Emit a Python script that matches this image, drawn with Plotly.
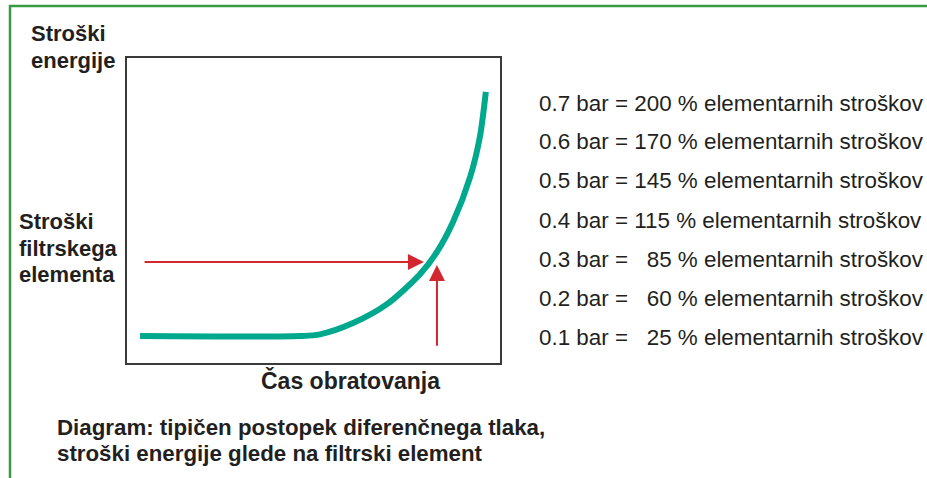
import plotly.graph_objects as go

W, H = 927, 478

# curve: time of operation (x) vs energy cost (y), arbitrary units 0..100
curve_x = [3.5, 46.4, 51.7, 60.6, 69.7, 78.6, 83.1, 87.4, 92.0, 94.6, 96.2]
curve_y = [8.85, 8.85, 9.4, 13.1, 19.3, 29.2, 36.4, 46.2, 61.0, 74.1, 88.9]

# arrows (filter element cost level and time of change)
h_arrow_tail = (4.3, 33.1)
h_arrow_tip = (79.6, 33.1)
v_arrow_tail = (83.1, 5.2)
v_arrow_tip = (83.1, 32.1)

pressures = ["0.7", "0.6", "0.5", "0.4", "0.3", "0.2", "0.1"]
percents = [200, 170, 145, 115, 85, 60, 25]

y_title_lines = ["Stroški", "energije"]
filter_lines = ["Stroški", "filtrskega", "elementa"]
x_title = "Čas obratovanja"
caption_lines = ["Diagram: tipičen postopek diferenčnega tlaka,",
                 "stroški energije glede na filtrski element"]

GREEN = "#3a9a44"
TEAL = "#00a88e"
RED = "#d4262f"
FONT = "Liberation Sans, Arial, sans-serif"
TXT = "#231f20"


def px(x):
    return x / W


def py(y):
    return 1 - y / H


fig = go.Figure()
fig.add_trace(go.Scatter(x=curve_x, y=curve_y, mode="lines",
                         line=dict(color=TEAL, width=6, shape="spline", smoothing=0.8),
                         hoverinfo="skip", showlegend=False))

box_l, box_r, box_t, box_b = 127, 500, 58, 363
fig.update_layout(
    width=W, height=H, margin=dict(l=0, r=0, t=0, b=0),
    paper_bgcolor="white", plot_bgcolor="white", showlegend=False,
    xaxis=dict(domain=[px(box_l), px(box_r)], range=[0, 100], showgrid=False,
               zeroline=False, showticklabels=False, ticks="", showline=True,
               linecolor="#3a3a3a", linewidth=1.5, mirror=True, fixedrange=True),
    yaxis=dict(domain=[py(box_b), py(box_t)], range=[0, 100], showgrid=False,
               zeroline=False, showticklabels=False, ticks="", showline=True,
               linecolor="#3a3a3a", linewidth=1.5, mirror=True, fixedrange=True),
)

annos = []
for tail, tip in [(h_arrow_tail, h_arrow_tip), (v_arrow_tail, v_arrow_tip)]:
    annos.append(dict(x=tip[0], y=tip[1], ax=tail[0], ay=tail[1], xref="x", yref="y",
                      axref="x", ayref="y", text="", showarrow=True, arrowhead=2,
                      arrowsize=1.6, arrowwidth=2, arrowcolor=RED))

bold = dict(family=FONT, size=22, color=TXT)
for i, t in enumerate(y_title_lines):
    annos.append(dict(x=px(29), y=py(33 + 27 * i), xref="paper", yref="paper",
                      xanchor="left", yanchor="middle", text=f"<b>{t}</b>",
                      showarrow=False, font=bold))
for i, t in enumerate(filter_lines):
    annos.append(dict(x=px(17), y=py(222 + 26 * i), xref="paper", yref="paper",
                      xanchor="left", yanchor="middle", text=f"<b>{t}</b>",
                      showarrow=False, font=bold))
annos.append(dict(x=px(350), y=py(380), xref="paper", yref="paper",
                  xanchor="center", yanchor="middle", text=f"<b>{x_title}</b>",
                  showarrow=False, font=dict(family=FONT, size=23, color=TXT)))
for i, t in enumerate(caption_lines):
    annos.append(dict(x=px(55), y=py(427 + 26 * i), xref="paper", yref="paper",
                      xanchor="left", yanchor="middle", text=f"<b>{t}</b>",
                      showarrow=False, font=dict(family=FONT, size=22.3, color=TXT)))

for i, (p, v) in enumerate(zip(pressures, percents)):
    num = str(v) if v >= 100 else "\u2007" + str(v)
    annos.append(dict(x=px(537), y=py(103 + 39.0 * i), xref="paper", yref="paper",
                      xanchor="left", yanchor="middle",
                      text=f"{p} bar = {num} % elementarnih stroškov",
                      showarrow=False, font=dict(family=FONT, size=22.4, color=TXT)))

fig.update_layout(annotations=annos)

shapes = [
    dict(type="line", xref="paper", yref="paper", x0=px(10), x1=px(10),
         y0=0, y1=py(5), line=dict(color=GREEN, width=2.5)),
    dict(type="line", xref="paper", yref="paper", x0=px(9), x1=1,
         y0=py(6), y1=py(6), line=dict(color=GREEN, width=2.5)),
]
fig.update_layout(shapes=shapes)

fig.write_html("out.html", config={"displayModeBar": False},
               post_script="document.body.style.margin='0px';document.body.style.overflow='hidden';")
